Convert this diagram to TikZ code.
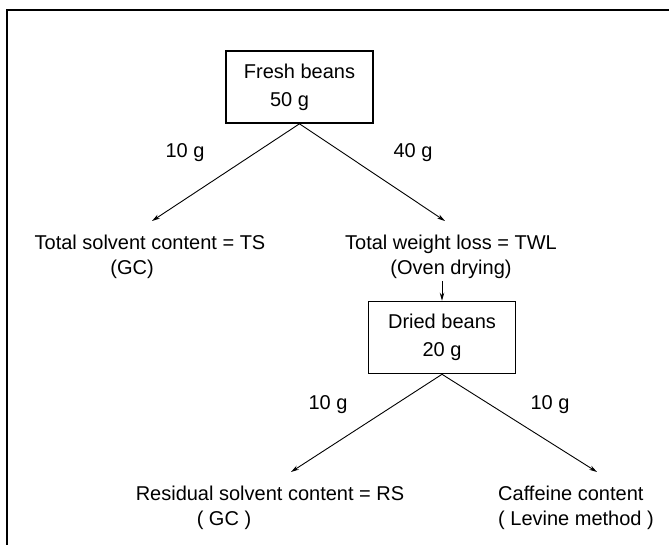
\documentclass[tikz,border=0pt]{standalone}
\usepackage{fontspec}
\setmainfont{Liberation Sans}
\usetikzlibrary{arrows.meta}
\begin{document}
\begin{tikzpicture}[x=1pt,y=-1pt,
  lbl/.style={font=\fontsize{20}{26}\selectfont, inner sep=0pt},
  boxnode/.style={draw, line width=1.6pt, minimum width=147pt, minimum height=72pt, align=center, font=\fontsize{20}{28}\selectfont, inner sep=0pt},
  txt/.style={align=center, font=\fontsize{20}{25}\selectfont, inner sep=0pt},
  arr/.style={-{Stealth[length=8pt,width=4.5pt]}, line width=0.9pt}]
\useasboundingbox (0,0) rectangle (669,545);
\draw[line width=1.8pt] (669,10) -- (7,10) -- (7,545);
\node[boxnode] (fresh) at (299.5,87) {Fresh beans\\50 g\hspace*{20pt}};
\node[lbl] (l1) at (185,153) {10 g};
\node[lbl] (l2) at (413,153) {40 g};
\coordinate (ttip) at (152,221);
\coordinate (wtip) at (445,221);
\node[txt] (ts) at (150,257) {Total solvent content = TS\\(GC)\hspace*{36pt}};
\node[txt] (twl) at (451,257) {Total weight loss = TWL\\(Oven drying)};
\draw[arr] (fresh.south) -- (ttip);
\draw[arr] (fresh.south) -- (wtip);
\node[boxnode] (dried) at (442,337.5) {Dried beans\\20 g};
\coordinate (dstart) at (442,281);
\draw[arr] (dstart) -- (dried.north);
\node[lbl] (l3) at (328,405) {10 g};
\node[lbl] (l4) at (550,405) {10 g};
\coordinate (rtip) at (291,472);
\coordinate (ctip) at (597,472);
\draw[arr] (dried.south) -- (rtip);
\draw[arr] (dried.south) -- (ctip);
\node[txt] (rs) at (270,508) {Residual solvent content = RS\\( GC )\hspace*{92pt}};
\node[txt, align=left, anchor=west] (caf) at (498,508) {Caffeine content\\( Levine method )};
\end{tikzpicture}
\end{document}
